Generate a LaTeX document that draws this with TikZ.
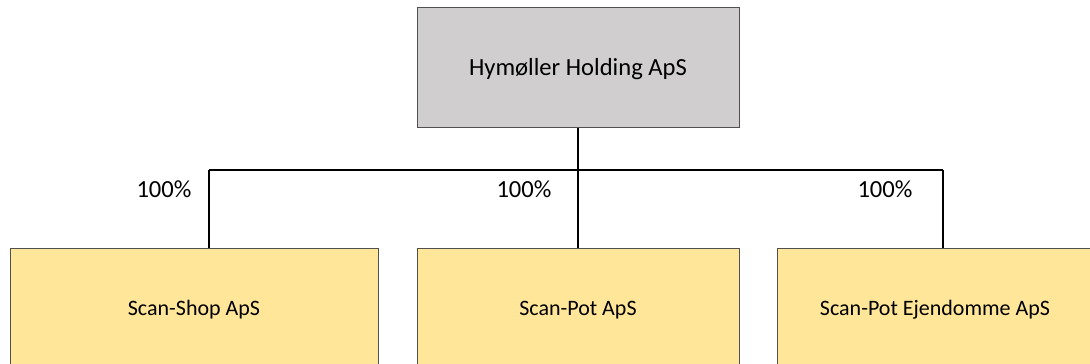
\documentclass[tikz,border=0pt]{standalone}
\usepackage{fontspec}
\setmainfont{Carlito}
\usepackage{xcolor}
\definecolor{holdgray}{RGB}{208, 206, 206}
\definecolor{subyellow}{RGB}{255, 230, 153}
\definecolor{edgegray}{RGB}{80, 80, 80}
\usepackage{tikz}
\tikzstyle{holding} = [shape=rectangle, draw=edgegray, line width=1pt, fill=holdgray, align=center, text depth=0pt, minimum width=322pt, minimum height=120pt, font=\fontsize{24.6}{29}\selectfont]
\tikzstyle{subsidiary} = [shape=rectangle, draw=edgegray, line width=1pt, fill=subyellow, align=center, text depth=0pt, minimum height=120pt, font=\fontsize{22}{26}\selectfont]
\tikzstyle{share} = [inner sep=0pt, font=\fontsize{24.6}{29}\selectfont]

\begin{document}
\begin{tikzpicture}[x=1pt, y=-1pt, line width=1.3pt]
  \useasboundingbox (0,0) rectangle (1090,364);
  \node[holding] (hymoller) at (578,67) {Hymøller Holding ApS};
  \node[subsidiary, minimum width=368pt] (shop) at (194,308) {Scan-Shop ApS};
  \node[subsidiary, minimum width=322pt] (pot) at (578,308) {Scan-Pot ApS};
  \node[subsidiary, minimum width=316pt] (ejendomme) at (935,308) {Scan-Pot Ejendomme ApS};
  % ownership bus
  \coordinate (busL) at (209,170);
  \coordinate (busR) at (943,170);
  \draw (hymoller.south) -- (pot.north);
  \draw (busL) -- (busR);
  \draw (busL) -- (busL |- shop.north);
  \draw (busR) -- (busR |- ejendomme.north);
  % shares
  \node[share] (pctshop) at (164,189) {100\%};
  \node[share] (pctpot) at (524,189) {100\%};
  \node[share] (pctejendomme) at (885,189) {100\%};
\end{tikzpicture}
\end{document}
